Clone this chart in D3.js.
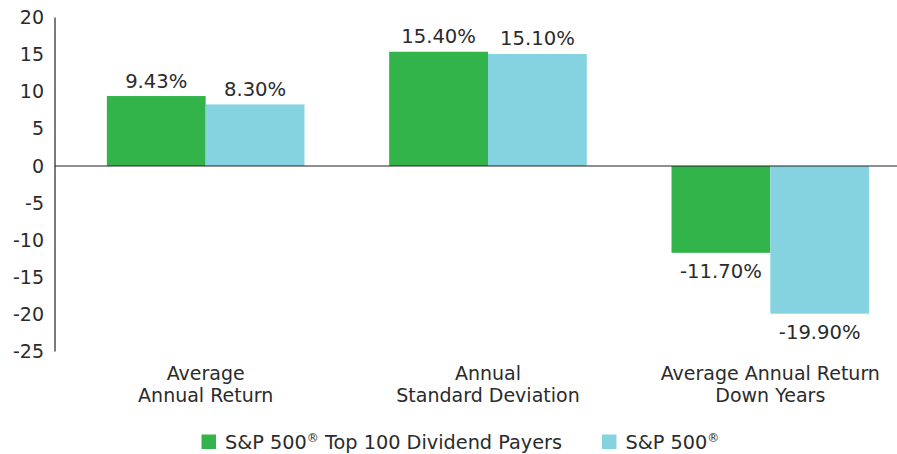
<!DOCTYPE html>
<html><head><meta charset="utf-8">
<script src="https://cdn.jsdelivr.net/npm/d3@7"></script>
<style>body{margin:0;background:#fff}text{font-family:"DejaVu Sans",sans-serif;fill:#2b2b2b}</style>
</head><body>
<svg id="c" width="897" height="454"></svg>
<script>
const categories = [["Average","Annual Return"],["Annual","Standard Deviation"],["Average Annual Return","Down Years"]];
const seriesNames = ["S&P 500|\u00AE| Top 100 Dividend Payers","S&P 500|\u00AE|"];
const top100 = [9.43, 15.40, -11.70];
const sp500 = [8.30, 15.10, -19.90];
const yTicks = [20,15,10,5,0,-5,-10,-15,-20,-25];
const colors = ["#33b44a","#85d3e0"];

const svg = d3.select("#c");
const y = d3.scaleLinear().domain([-25,20]).range([351.5,17.6]);
const x0 = d3.scaleBand().domain(d3.range(categories.length)).range([64.5,911.5]).paddingInner(0.3).paddingOuter(0.15);
const x1 = d3.scaleBand().domain([0,1]).range([0,x0.bandwidth()]);

// y axis
const ax = svg.append("g").attr("transform","translate(55,0)")
  .call(d3.axisLeft(y).tickValues(yTicks).tickSize(0).tickPadding(11).tickFormat(d=>String(d)));
ax.select(".domain").attr("stroke","#222").attr("stroke-width",1.2).attr("d","M0,"+y(20)+"V"+y(-25));
ax.selectAll("text").style("font-family","DejaVu Sans, sans-serif").style("font-size","19px").attr("fill","#2b2b2b");

const series = [top100, sp500];
series.forEach((vals,si)=>{
  svg.append("g").selectAll("rect").data(vals).join("rect")
    .attr("x",(d,i)=>x0(i)+x1(si))
    .attr("width",x1.bandwidth())
    .attr("y",d=>y(Math.max(0,d)))
    .attr("height",d=>Math.abs(y(d)-y(0)))
    .attr("fill",colors[si]);
  svg.append("g").selectAll("text").data(vals).join("text")
    .attr("x",(d,i)=>x0(i)+x1(si)+x1.bandwidth()/2)
    .attr("y",d=> d>=0 ? y(d)-8.5 : y(d)+25)
    .attr("text-anchor","middle")
    .style("font-size","19.6px")
    .text(d=>d.toFixed(2)+"%");
});

// zero line
svg.append("line").attr("x1",55).attr("x2",897).attr("y1",y(0)).attr("y2",y(0)).attr("stroke","#222").attr("stroke-width",1.2);

// category labels
categories.forEach((lines,i)=>{
  const cx = x0(i)+x0.bandwidth()/2;
  const t = svg.append("text").attr("x",cx).attr("y",380).attr("text-anchor","middle").style("font-size","19px");
  lines.forEach((l,j)=>t.append("tspan").attr("x",cx).attr("dy",j?22:0).text(l));
});

// legend
const legX = [201.5, 602];
seriesNames.forEach((n,i)=>{
  svg.append("rect").attr("x",legX[i]).attr("y",434.5).attr("width",14.5).attr("height",14.5).attr("fill",colors[i]);
  const t = svg.append("text").attr("x",legX[i]+23.5).attr("y",449).style("font-size","19.3px");
  n.split("|").forEach((part,j)=>{
    if (j===1) t.append("tspan").attr("dy",-7).style("font-size","12px").text(part);
    else if (j===2) t.append("tspan").attr("dy",7).text(part);
    else t.append("tspan").text(part);
  });
});
</script>
</body></html>
